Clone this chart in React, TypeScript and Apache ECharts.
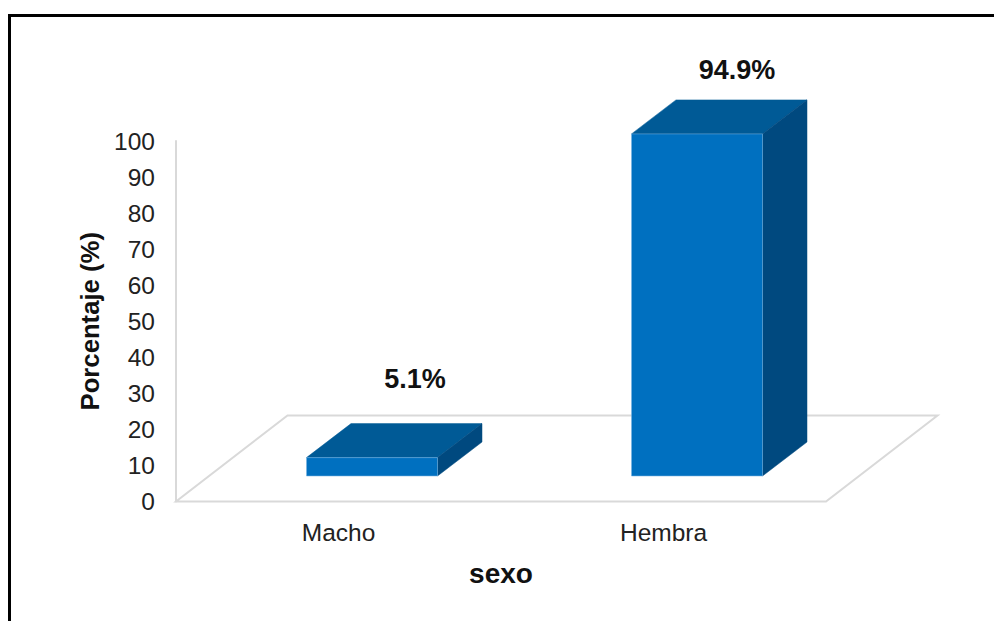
import React, { useEffect, useRef } from "react";
import * as echarts from "echarts";

const categories = ["Macho", "Hembra"];
const percentages = [5.1, 94.9];
const valueLabels = ["5.1%", "94.9%"];
const yTicks = { min: 0, max: 100, interval: 10 };

const FONT = "'Liberation Sans', Arial, sans-serif";
const DEPTH_X = 44.5;
const DEPTH_Y = 34;
const BAR_W = 131;
const FLOOR_LIFT = 25.5;
const BAR_SHIFT = 33.5;
const FLOOR_DX = 111.5;
const FLOOR_DY = 86;
const LABEL_OFFSETS = [[43, -79], [40, -64]];
const EDGE = "rgba(120,180,225,0.55)";

export default function App() {
  const ref = useRef<HTMLDivElement>(null);
  useEffect(() => {
    document.body.style.margin = "0";
    const chart = echarts.init(ref.current!, null, { renderer: "svg" });
    const renderFloor = (params: any, api: any) => {
      const cs = params.coordSys;
      const y0 = api.coord([0, 0])[1];
      const l = cs.x, r = cs.x + cs.width;
      return {
        type: "polygon",
        silent: true,
        shape: { points: [[l, y0], [r, y0], [r + FLOOR_DX, y0 - FLOOR_DY], [l + FLOOR_DX, y0 - FLOOR_DY]] },
        style: { fill: "#ffffff", stroke: "#D9D9D9", lineWidth: 2 },
      };
    };
    const renderBar = (params: any, api: any) => {
      const i = api.value(0);
      const c = api.coord([i, api.value(1)]);
      const base = api.coord([i, 0]);
      const cx = c[0] + BAR_SHIFT;
      const xl = cx - BAR_W / 2, xr = cx + BAR_W / 2;
      const yb = base[1] - FLOOR_LIFT, yt = c[1] - FLOOR_LIFT;
      const off = LABEL_OFFSETS[i];
      return {
        type: "group",
        children: [
          { type: "polygon", shape: { points: [[xl, yt], [xr, yt], [xr + DEPTH_X, yt - DEPTH_Y], [xl + DEPTH_X, yt - DEPTH_Y]] }, style: { fill: "#005A96", stroke: "#005A96", lineWidth: 0.5 } },
          { type: "polygon", shape: { points: [[xr, yb], [xr + DEPTH_X, yb - DEPTH_Y], [xr + DEPTH_X, yt - DEPTH_Y], [xr, yt]] }, style: { fill: "#00497F", stroke: "#00497F", lineWidth: 0.5 } },
          { type: "rect", shape: { x: xl, y: yt, width: BAR_W, height: yb - yt }, style: { fill: "#0070C0", stroke: EDGE, lineWidth: 1 } },
          { type: "text", style: { text: valueLabels[i], x: cx + off[0], y: yt + off[1], align: "center", verticalAlign: "middle", fill: "#111111", font: `bold 27px ${FONT}` } },
        ],
      };
    };
    chart.setOption({
      animation: false,
      grid: { left: 176, right: 168, top: 141, bottom: 119.5, containLabel: false },
      xAxis: {
        type: "category",
        data: categories,
        name: "sexo",
        nameLocation: "middle",
        nameGap: 58,
        nameTextStyle: { fontFamily: FONT, fontSize: 28, fontWeight: "bold", color: "#111111" },
        axisLine: { show: false },
        axisTick: { show: false },
        axisLabel: { fontFamily: FONT, fontSize: 24.5, color: "#222222", margin: 18.5 },
        splitLine: { show: false },
      },
      yAxis: {
        type: "value",
        min: yTicks.min,
        max: yTicks.max,
        interval: yTicks.interval,
        name: "Porcentaje (%)",
        nameLocation: "middle",
        nameGap: 73,
        nameTextStyle: { fontFamily: FONT, fontSize: 25.7, fontWeight: "bold", color: "#111111" },
        axisLine: { show: true, lineStyle: { color: "#D9D9D9", width: 2 } },
        axisTick: { show: false },
        axisLabel: { fontFamily: FONT, fontSize: 24.5, color: "#222222", margin: 21 },
        splitLine: { show: false },
      },
      series: [
        { type: "custom", name: "floor", renderItem: renderFloor, data: [[0, 0]], silent: true, z: 1, clip: false },
        { type: "custom", name: "Porcentaje", renderItem: renderBar, data: percentages.map((v, i) => [i, v]), encode: { x: 0, y: 1 }, z: 2, clip: false },
      ],
      graphic: [
        { type: "polyline", silent: true, z: 10, shape: { points: [[9.5, 621], [9.5, 15.5], [994, 15.5]] }, style: { fill: "none", stroke: "#000000", lineWidth: 3 } },
      ],
    });
    return () => chart.dispose();
  }, []);
  return <div ref={ref} style={{ width: 994, height: 621, background: "#ffffff" }} />;
}
